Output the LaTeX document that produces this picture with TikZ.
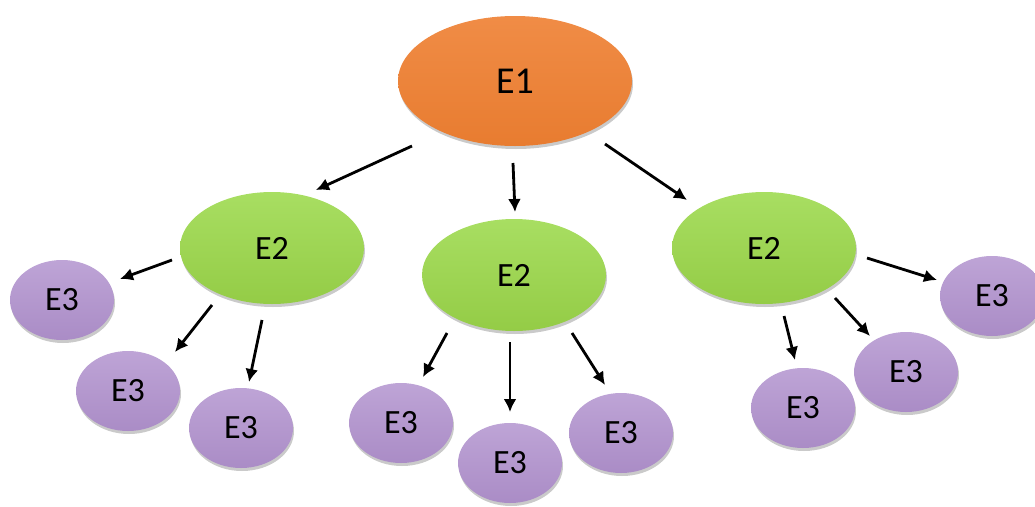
\documentclass[tikz,border=0pt]{standalone}
\usepackage{fontspec}
\setmainfont{Carlito}
\usetikzlibrary{arrows.meta,shadows,shapes.geometric}
\definecolor{orgA}{RGB}{240,140,70}
\definecolor{orgB}{RGB}{232,124,48}
\definecolor{grnA}{RGB}{168,222,98}
\definecolor{grnB}{RGB}{148,204,70}
\definecolor{purA}{RGB}{190,164,214}
\definecolor{purB}{RGB}{170,140,198}
\tikzset{
  blob/.style={ellipse, inner sep=0pt, draw=none,
    drop shadow={shadow xshift=1pt, shadow yshift=-3pt, opacity=0.35, fill=black!60}},
  lvlone/.style={blob, minimum width=234pt, minimum height=130pt,
    top color=orgA, bottom color=orgB,
    font=\fontsize{38}{42}\selectfont},
  lvltwo/.style={blob, minimum width=184pt, minimum height=112pt,
    top color=grnA, bottom color=grnB,
    font=\fontsize{34}{38}\selectfont},
  lvlthree/.style={blob, minimum width=104pt, minimum height=80pt,
    top color=purA, bottom color=purB,
    font=\fontsize{34}{38}\selectfont},
  arr/.style={-{Latex[length=13pt,width=13pt]}, line width=2.8pt, black}
}
\begin{document}
\begin{tikzpicture}[x=1pt,y=-1pt]
\useasboundingbox (0,0) rectangle (1035,506);
\clip (0,0) rectangle (1035,506);
\node[lvlone] (e1) at (515,81) {E1};
\node[lvltwo] (e2a) at (272,248) {E2};
\node[lvltwo] (e2b) at (514,275) {E2};
\node[lvltwo] (e2c) at (764,248) {E2};
\node[lvlthree] (e3a) at (62,300) {E3};
\node[lvlthree] (e3b) at (128,391) {E3};
\node[lvlthree] (e3c) at (241,428) {E3};
\node[lvlthree] (e3d) at (401,423) {E3};
\node[lvlthree] (e3e) at (510,463) {E3};
\node[lvlthree] (e3f) at (621,433) {E3};
\node[lvlthree] (e3g) at (803,408) {E3};
\node[lvlthree] (e3h) at (906,372) {E3};
\node[lvlthree] (e3i) at (992,296) {E3};
% E1 -> E2
\draw[arr] ([shift={(-103,65)}]e1.center) -- ([shift={(44,-58)}]e2a.center);
\draw[arr] ([shift={(-2,82)}]e1.center) -- ([shift={(1,-63)}]e2b.center);
\draw[arr] ([shift={(90,63)}]e1.center) -- ([shift={(-77,-48)}]e2c.center);
% left E2
\draw[arr] ([shift={(-100,12)}]e2a.center) -- ([shift={(58,-21)}]e3a.center);
\draw[arr] ([shift={(-60,57)}]e2a.center) -- ([shift={(47,-39)}]e3b.center);
\draw[arr] ([shift={(-10,72)}]e2a.center) -- ([shift={(8,-46)}]e3c.center);
% middle E2
\draw[arr] ([shift={(-67,58)}]e2b.center) -- ([shift={(22,-46)}]e3d.center);
\draw[arr] ([shift={(-4,67)}]e2b.center) -- ([shift={(0,-51)}]e3e.center);
\draw[arr] ([shift={(58,58)}]e2b.center) -- ([shift={(-16,-48)}]e3f.center);
% right E2
\draw[arr] ([shift={(20,68)}]e2c.center) -- ([shift={(-8,-48)}]e3g.center);
\draw[arr] ([shift={(71,50)}]e2c.center) -- ([shift={(-36,-36)}]e3h.center);
\draw[arr] ([shift={(103,10)}]e2c.center) -- ([shift={(-55,-16)}]e3i.center);
\end{tikzpicture}
\end{document}
